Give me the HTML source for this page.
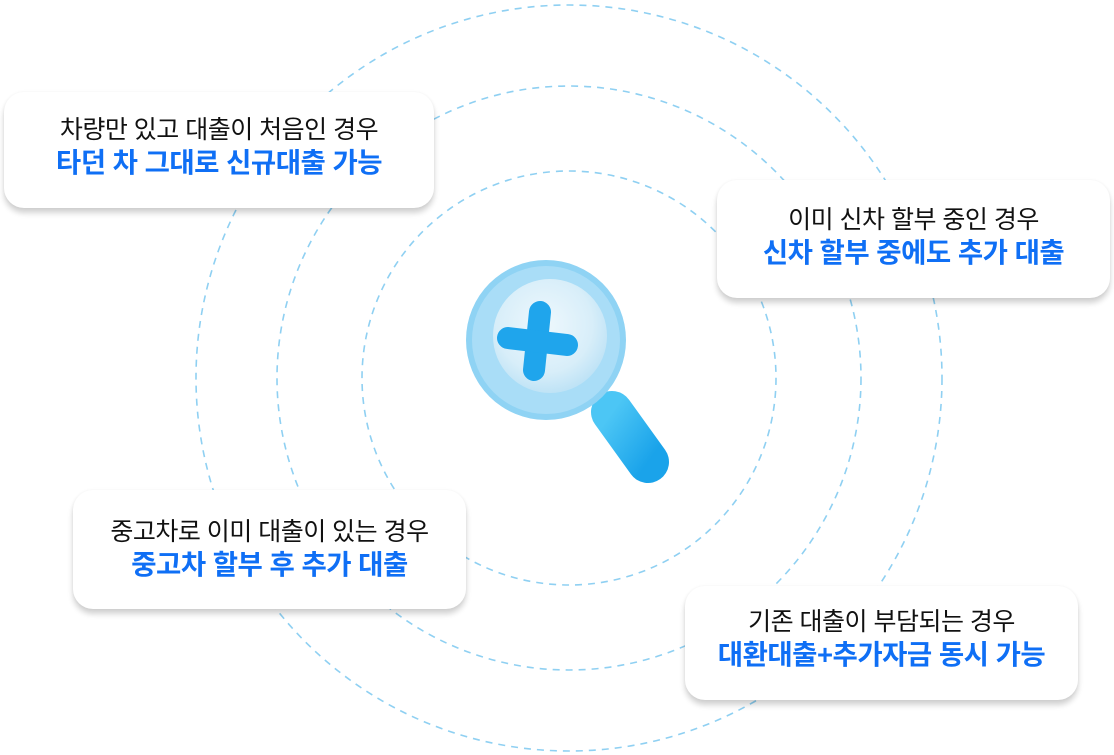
<!DOCTYPE html>
<html><head><meta charset="utf-8"><style>
body{margin:0;width:1114px;height:755px;background:#fff;position:relative;overflow:hidden;font-family:"Liberation Sans","Noto Sans CJK KR",sans-serif}
.card{position:absolute;background:#fff;border-radius:20px;box-shadow:0 5px 6px rgba(0,0,0,0.18),0 0 3px rgba(0,0,0,0.05);text-align:center;box-sizing:border-box;white-space:nowrap}
.t1{font-size:25px;color:#111;line-height:30px;letter-spacing:-0.5px}
.t2{font-size:27.5px;font-weight:bold;color:#0f6ff5;line-height:36px;letter-spacing:-0.5px}
</style></head><body>
<svg width="1114" height="755" style="position:absolute;left:0;top:0">
<g fill="none" stroke="#8fd0f2" stroke-width="1.6" stroke-dasharray="7 6">
<circle cx="569" cy="378" r="207"/>
<circle cx="569" cy="378" r="292"/>
<circle cx="569" cy="378" r="373"/>
</g>
<defs>
<radialGradient id="lens" cx="0.45" cy="0.4" r="0.6"><stop offset="0" stop-color="#eef8fd"/><stop offset="0.7" stop-color="#d8eef9"/><stop offset="1" stop-color="#bfe3f6"/></radialGradient>
<linearGradient id="h" x1="0" y1="0" x2="1" y2="1"><stop offset="0" stop-color="#4cc6f5"/><stop offset="1" stop-color="#1aa3ea"/></linearGradient>
</defs>
<line x1="612" y1="412" x2="648" y2="462" stroke="url(#h)" stroke-width="42" stroke-linecap="round"/>
<circle cx="546" cy="340" r="80" fill="#8fd3f4"/>
<circle cx="546" cy="340" r="74" fill="#a9ddf7"/>
<circle cx="550" cy="336" r="57" fill="url(#lens)"/>
<g stroke="#1fa5ec" stroke-width="22" stroke-linecap="round">
<line x1="540" y1="312" x2="534" y2="370"/>
<line x1="508" y1="338" x2="567" y2="345"/>
</g>
</svg>
<div class="card" style="left:4px;top:92px;width:430px;height:116px;padding-top:23px"><div class="t1">차량만 있고 대출이 처음인 경우</div><div class="t2">타던 차 그대로 신규대출 가능</div></div>
<div class="card" style="left:717px;top:180px;width:393px;height:118px;padding-top:25px"><div class="t1">이미 신차 할부 중인 경우</div><div class="t2">신차 할부 중에도 추가 대출</div></div>
<div class="card" style="left:73px;top:490px;width:393px;height:119px;padding-top:27px"><div class="t1">중고차로 이미 대출이 있는 경우</div><div class="t2">중고차 할부 후 추가 대출</div></div>
<div class="card" style="left:685px;top:586px;width:393px;height:114px;padding-top:21px"><div class="t1">기존 대출이 부담되는 경우</div><div class="t2">대환대출+추가자금 동시 가능</div></div>
</body></html>
